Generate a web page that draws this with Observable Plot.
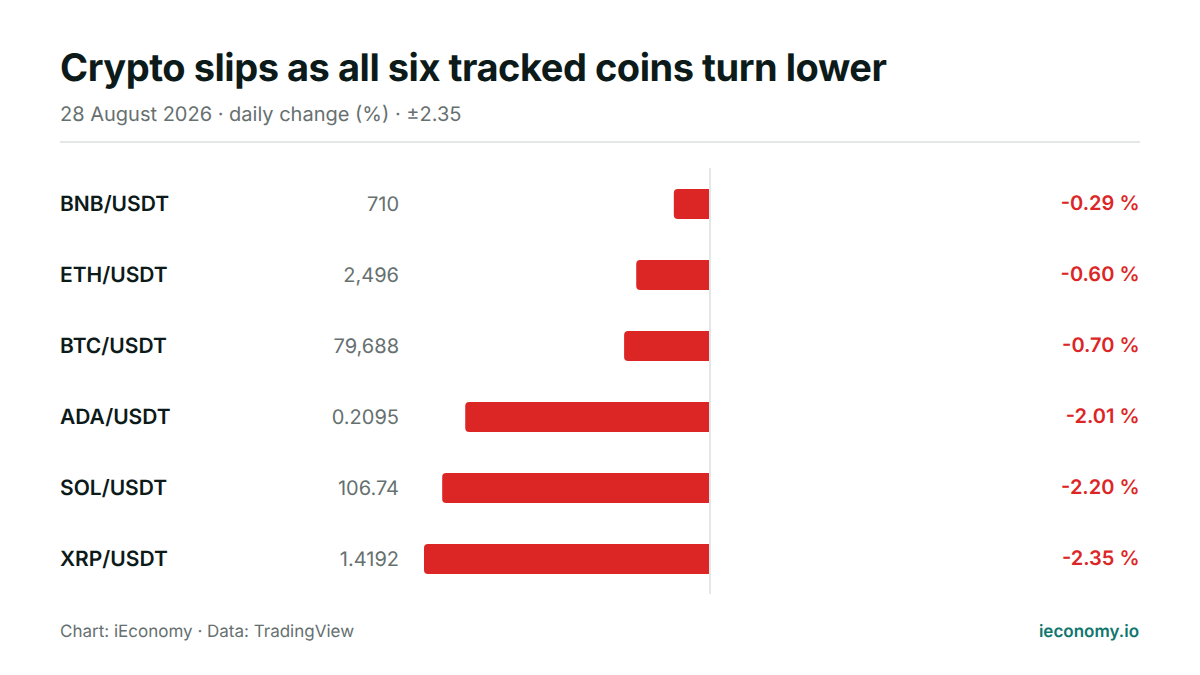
<!DOCTYPE html>
<html>
<head>
<meta charset="utf-8">
<script src="https://cdn.jsdelivr.net/npm/d3@7"></script>
<script src="https://cdn.jsdelivr.net/npm/@observablehq/plot@0.6"></script>
<style>
html,body{margin:0;padding:0;background:#fff;font-family:Inter,sans-serif;text-rendering:geometricPrecision;}
#page{position:relative;width:1200px;height:675px;overflow:hidden;}
#page>div{position:absolute;white-space:nowrap;}
#title{left:60px;top:45px;font-size:38px;line-height:46px;font-weight:700;color:#0c1a1a;letter-spacing:-0.46px;}
#sub{left:60px;top:100px;font-size:20px;line-height:28px;color:#66706f;}
#sep{left:60px;top:141px;width:1080px;height:2px;background:#e3e7e7;}
#chart{left:0;top:168px;}
#src{left:60px;top:621px;font-size:17px;line-height:22px;color:#66706f;}
#brand{right:61px;top:621px;font-size:17px;line-height:22px;font-weight:600;color:#0f766e;}
svg{display:block;text-rendering:geometricPrecision;}
</style>
</head>
<body>
<div id="page">
  <div id="title">Crypto slips as all six tracked coins turn lower</div>
  <div id="sub">28 August 2026 · daily change (%) · ±2.35</div>
  <div id="sep"></div>
  <div id="chart"></div>
  <div id="src">Chart: iEconomy · Data: TradingView</div>
  <div id="brand">ieconomy.io</div>
</div>
<script>
const pairs = ["BNB/USDT","ETH/USDT","BTC/USDT","ADA/USDT","SOL/USDT","XRP/USDT"];
const prices = ["710","2,496","79,688","0.2095","106.74","1.4192"];
const changes = [-0.29,-0.60,-0.70,-2.01,-2.20,-2.35];
const changeLabels = ["-0.29 %","-0.60 %","-0.70 %","-2.01 %","-2.20 %","-2.35 %"];
const rows = pairs.map((pair,i)=>({pair,price:prices[i],change:changes[i],label:changeLabels[i]}));

const plot = Plot.plot({
  width:1200,height:426,
  marginLeft:60,marginRight:61,marginTop:0,marginBottom:0,
  x:{domain:[-2.35,0],range:[424,709],axis:null},
  y:{domain:pairs,range:[0,426],paddingInner:41/71,paddingOuter:20.5/71,align:0.5,axis:null},
  style:{fontFamily:"Inter, sans-serif",background:"transparent"},
  marks:[
    Plot.ruleX([0],{stroke:"#e3e7e7",strokeWidth:2,dx:0.5}),
    Plot.barX(rows,{x1:"change",x2:()=>0,y:"pair",fill:"#dc2626",rx1:4}),
    Plot.text(rows,{y:"pair",text:"pair",frameAnchor:"left",dx:-0.5,textAnchor:"start",fontSize:21,fontWeight:600,fill:"#0c1a1a"}),
    Plot.text(rows,{y:"pair",text:"price",frameAnchor:"left",dx:338.5,textAnchor:"end",fontSize:20,fill:"#66706f"}),
    Plot.text(rows,{y:"pair",text:"label",frameAnchor:"right",textAnchor:"end",dy:-0.5,fontSize:20,fontWeight:600,fill:"#dc2626"})
  ]
});
document.getElementById("chart").append(plot);
</script>
</body>
</html>
